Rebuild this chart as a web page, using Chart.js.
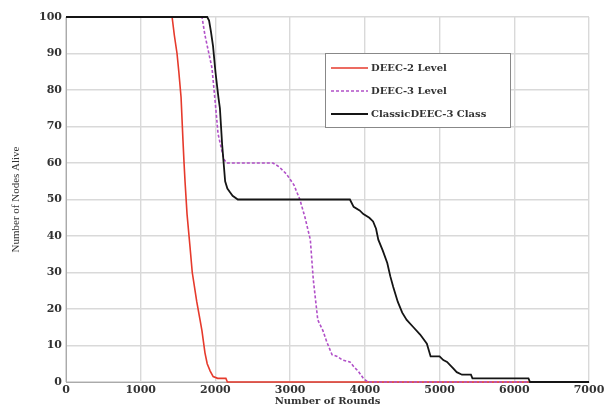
<!DOCTYPE html>
<html>
<head>
<meta charset="utf-8">
<script src="https://cdn.jsdelivr.net/npm/chart.js@4"></script>
<style>
  body { margin: 0; background: #fff; }
</style>
</head>
<body>
<canvas id="myChart" width="613" height="407"></canvas>
<script>
// rounds / nodes alive
let deec2Rounds = [0, 1420, 1450, 1486, 1510, 1540, 1566, 1580, 1593, 1620, 1660, 1690, 1750, 1794, 1820, 1840, 1860, 1890, 1930, 1970, 2030, 2140, 2160, 7000];
let deec2Alive  = [100, 100, 95, 90, 85, 78, 66, 60, 55, 46, 37, 30, 22, 17, 14, 11, 8, 5, 3, 1.5, 1, 1, 0, 0];

let deec3Rounds = [0, 1820, 1860, 1954, 2000, 2035, 2090, 2115, 2150, 2770, 2850, 2950, 3050, 3130, 3200, 3270, 3310, 3370, 3440, 3490, 3530, 3560, 3630, 3700, 3800, 3860, 3910, 3980, 4040, 7000];
let deec3Alive  = [100, 100, 95, 86, 76, 68, 63, 61, 60, 60, 59, 57, 54, 50, 45, 39, 28, 17, 14, 11, 9, 7.5, 7, 6, 5.5, 4, 3, 1, 0, 0];

let classicRounds = [0, 1890, 1915, 1940, 1968, 2000, 2040, 2060, 2090, 2110, 2130, 2160, 2195, 2230, 2300, 3800, 3850, 3930, 3980, 4060, 4110, 4150, 4180, 4240, 4300, 4340, 4380, 4440, 4500, 4560, 4650, 4740, 4830, 4880, 5000, 5050, 5100, 5170, 5230, 5300, 5420, 5440, 6190, 6210, 7000];
let classicAlive  = [100, 100, 99, 96, 92, 85, 78, 75, 65, 60, 55, 53, 52, 51, 50, 50, 48, 47, 46, 45, 44, 42, 39, 36, 32.6, 29, 26, 22, 19, 17, 15, 13, 10.5, 7, 7, 6, 5.5, 4, 2.7, 2, 2, 1, 1, 0, 0];

let seriesNames = ['DEEC-2 Level', 'DEEC-3 Level', 'ClassicDEEC-3 Class'];

function pts(xs, ys) {
  let out = [];
  for (let i = 0; i < xs.length; i++) out.push({x: xs[i], y: ys[i]});
  return out;
}

const serif = "'Liberation Serif', 'DejaVu Serif', serif";
const wideSerif = "'DejaVu Serif', serif";

// legend drawn inside the plot like the matlab box
const boxLegend = {
  id: 'boxLegend',
  afterDraw(chart) {
    const c = chart.ctx;
    const left = 325, top = 53, w = 185, h = 74;
    c.save();
    c.fillStyle = '#fff';
    c.fillRect(left, top, w, h);
    c.strokeStyle = '#888';
    c.lineWidth = 1;
    c.strokeRect(left + 0.5, top + 0.5, w, h);
    c.font = 'bold 10px ' + wideSerif;
    c.textBaseline = 'middle';
    chart.data.datasets.forEach((ds, i) => {
      const y = top + 15 + i * 23;
      c.strokeStyle = ds.borderColor;
      c.lineWidth = ds.borderWidth;
      c.setLineDash(ds.borderDash || []);
      c.beginPath();
      c.moveTo(left + 6, y);
      c.lineTo(left + 43, y);
      c.stroke();
      c.setLineDash([]);
      c.fillStyle = '#333';
      c.fillText(ds.label, left + 46, y);
    });
    c.restore();
  }
};

let ctx = document.getElementById('myChart');

const myChart = new Chart(ctx, {
  type: 'line',
  data: {
    datasets: [
      { label: seriesNames[0], data: pts(deec2Rounds, deec2Alive), borderColor: '#e63a2c', borderWidth: 1.6, order: 2, clip: 3 },
      { label: seriesNames[1], data: pts(deec3Rounds, deec3Alive), borderColor: '#b150c8', borderWidth: 1.6, borderDash: [3, 2], order: 1, clip: 3 },
      { label: seriesNames[2], data: pts(classicRounds, classicAlive), borderColor: '#151515', borderWidth: 1.8, order: 0, clip: 3 }
    ]
  },
  options: {
    responsive: false,
    animation: false,
    elements: { point: { radius: 0 }, line: { tension: 0 } },
    layout: { padding: { left: 10, top: 17, right: 24, bottom: 0 } },
    plugins: { legend: { display: false }, tooltip: { enabled: false } },
    scales: {
      x: {
        type: 'linear',
        min: 0,
        max: 7000,
        ticks: { stepSize: 1000, color: '#333', padding: 2, font: { family: wideSerif, size: 11, weight: 'bold' },
                 callback: (v) => String(v) },
        grid: { color: '#d9d9d9', lineWidth: 1.4, drawTicks: false },
        border: { color: '#aaa' },
        title: { display: true, text: 'Number of Rounds', color: '#333', padding: { top: 0, bottom: 0 }, font: { family: wideSerif, size: 10, weight: 'bold' } },
        afterFit(scale) { scale.height = 25; }
      },
      y: {
        min: 0,
        max: 100,
        ticks: { stepSize: 10, color: '#333', padding: 4, font: { family: wideSerif, size: 11, weight: 'bold' } },
        grid: { color: '#d9d9d9', lineWidth: 1.4, drawTicks: false },
        border: { color: '#aaa' },
        title: { display: true, text: 'Number of Nodes Alive', color: '#333', padding: { top: 0, bottom: 0 }, font: { family: serif, size: 11 } },
        afterFit(scale) { scale.width = 56; }
      }
    }
  },
  plugins: [boxLegend]
});
</script>
</body>
</html>
